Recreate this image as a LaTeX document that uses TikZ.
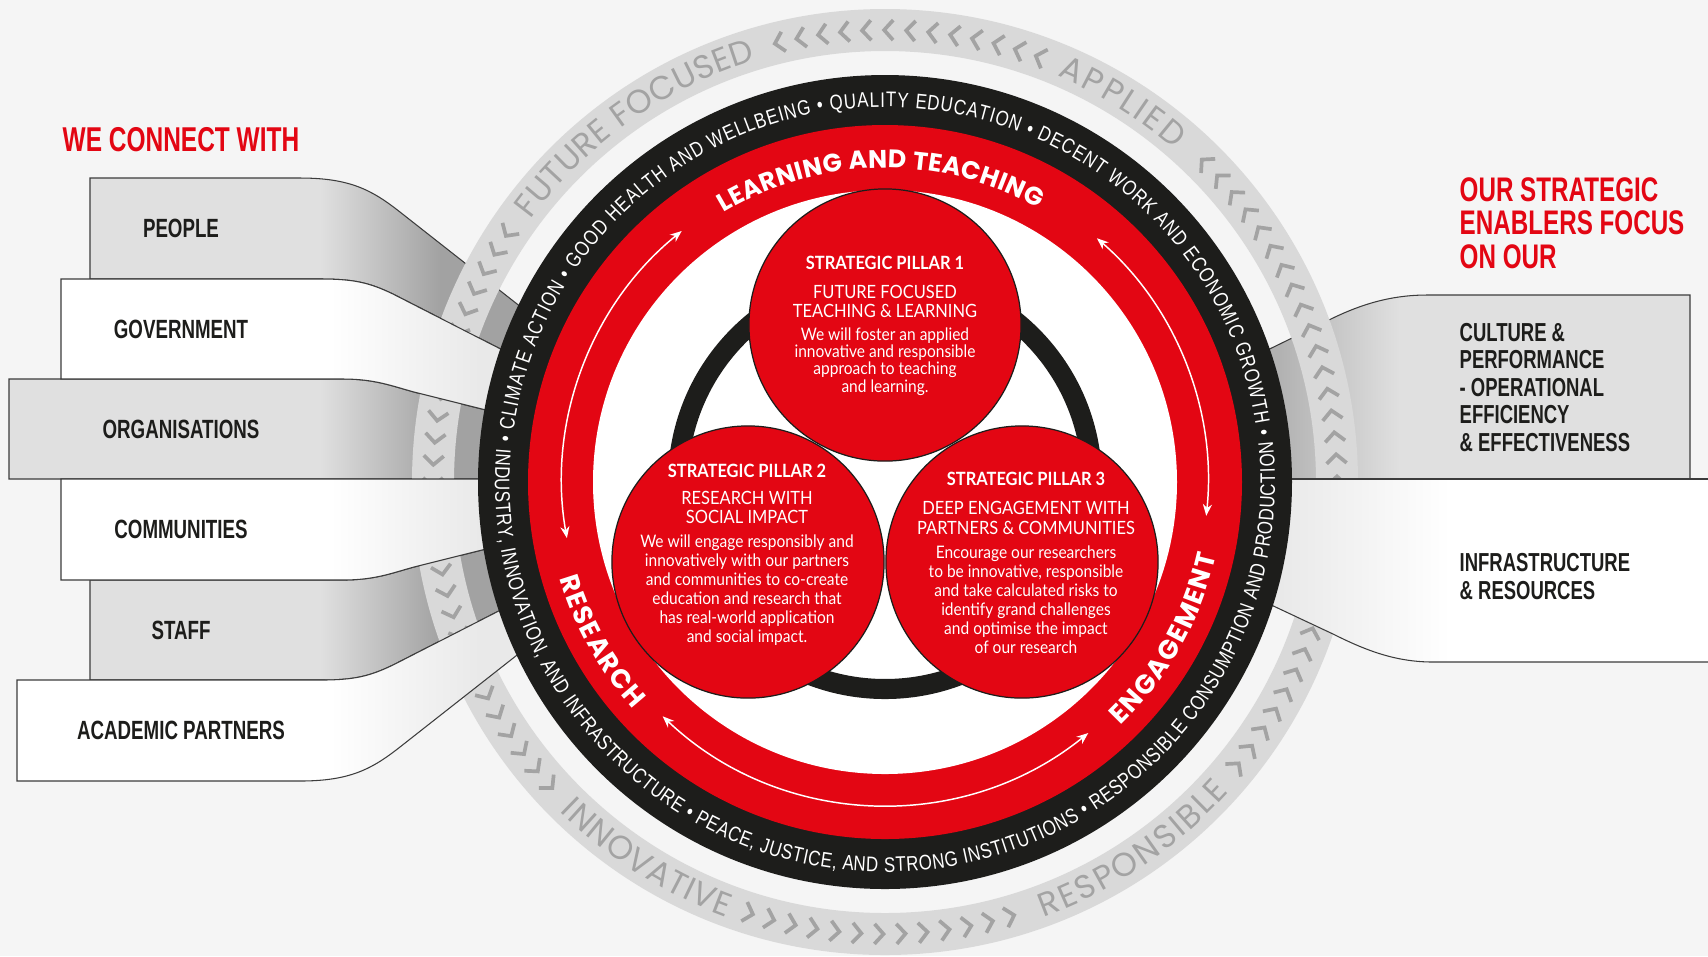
\documentclass[tikz,border=0pt]{standalone}
\usepackage{fontspec}
\setmainfont{Liberation Sans}
\newfontfamily\condf[FakeStretch=0.71]{Liberation Sans}
\newfontfamily\ringf[FakeStretch=0.8]{Liberation Sans}
\newfontfamily\latof[FakeStretch=0.9]{Lato}
\newfontfamily\poppf{Poppins}
\usetikzlibrary{arrows.meta,decorations.text}
\definecolor{bg}{HTML}{F5F5F5}
\definecolor{ured}{HTML}{E30613}
\definecolor{ublack}{HTML}{1D1D1B}
\definecolor{ringgray}{HTML}{D9D9D9}
\definecolor{chevgray}{HTML}{A3A3A3}
\definecolor{bandgray}{HTML}{E0E0E0}
\definecolor{banddark}{HTML}{A2A2A2}
\definecolor{bandmid}{HTML}{B2B2B2}
\definecolor{bandlight}{HTML}{E9E9E9}
\definecolor{linegray}{HTML}{3C3C3C}
\newcommand\fmtRing{\color{chevgray}\poppf\fontsize{9.4}{10}\selectfont}
\newcommand\fmtBlack{\color{white}\ringf\fontsize{6}{7}\selectfont}
\newcommand\fmtRedA{\color{white}\poppf\bfseries\fontsize{7.2}{8}\selectfont}
\newcommand\fmtRedB{\color{white}\poppf\bfseries\fontsize{7.6}{8}\selectfont}
\def\pPeople{(90,-178) -- (300,-178) .. controls (350,-178) and (372,-190) .. (400,-212) -- (540,-322) -- (530,-364) -- (393,-294) .. controls (370,-283) and (355,-279) .. (321,-279) -- (90,-279) -- cycle}
\def\pGov{(61,-279) -- (321,-279) .. controls (355,-279) and (370,-283) .. (393,-294) -- (530,-364) -- (510,-416) -- (414,-392) .. controls (392,-386) and (375,-379) .. (343,-379) -- (61,-379) -- cycle}
\def\pOrg{(9,-379) -- (343,-379) .. controls (375,-379) and (392,-386) .. (414,-392) -- (510,-416) -- (510,-479) -- (9,-479) -- cycle}
\def\pComm{(61,-479) -- (510,-479) -- (510,-543) -- (414,-567) .. controls (392,-573) and (375,-580) .. (343,-580) -- (61,-580) -- cycle}
\def\pStaff{(90,-580) -- (343,-580) .. controls (375,-580) and (392,-573) .. (414,-567) -- (510,-543) -- (530,-595) -- (393,-665) .. controls (370,-676) and (355,-680) .. (321,-680) -- (90,-680) -- cycle}
\def\pAcad{(17,-680) -- (321,-680) .. controls (355,-680) and (370,-676) .. (393,-665) -- (530,-595) -- (540,-637) -- (400,-747) .. controls (372,-769) and (350,-781) .. (300,-781) -- (17,-781) -- cycle}
\def\pCult{(1690,-295) -- (1427,-295) .. controls (1390,-295) and (1360,-305) .. (1333,-318) -- (1245,-361) -- (1265,-479) -- (1690,-479) -- cycle}
\def\pInfra{(1265,-479) -- (1708,-479) -- (1708,-662) -- (1433,-662) .. controls (1395,-662) and (1365,-650) .. (1333,-634) -- (1250,-595) -- cycle}
\newcommand\grayband[1]{%
  \fill[bandgray] #1;
  \begin{scope}\clip #1;
    \shade[left color=bandgray, right color=banddark] (320,-100) rectangle (440,-860);
    \fill[banddark] (440,-100) rectangle (600,-860);
  \end{scope}
  \draw[bandline] #1;}
\newcommand\whiteband[1]{%
  \fill[white] #1;
  \begin{scope}\clip #1;
    \shade[left color=white, right color=bandlight] (330,-100) rectangle (480,-860);
    \fill[bandlight] (480,-100) rectangle (600,-860);
  \end{scope}
  \draw[bandline] #1;}
\begin{document}
\begin{tikzpicture}[x=0.01cm, y=0.01cm,
  bandline/.style={draw=linegray, line width=0.3pt},
  chev/.style={draw=chevgray, line width=1.05pt, line cap=butt, line join=miter},
  pillar/.style={circle, fill=ured, draw=ublack, line width=0.35pt, minimum size=2.72cm, inner sep=0pt},
  ringarrow/.style={draw=white, line width=0.42pt, arrows={Stealth[length=3.3pt,width=2.6pt]-Stealth[length=3.3pt,width=2.6pt]}},
  lab/.style={text=ublack, font=\condf\bfseries\fontsize{7.5}{8}\selectfont, inner sep=0pt},
  rlab/.style={anchor=base west, text=ublack, font=\condf\bfseries\fontsize{7.4}{8}\selectfont, inner sep=0pt},
  rtitle/.style={anchor=base west, text=ured, font=\condf\bfseries\fontsize{9.7}{10}\selectfont, inner sep=0pt},
  phead/.style={anchor=base, text=white, font=\latof\bfseries\fontsize{5.2}{6}\selectfont, inner sep=0pt},
  psub/.style={anchor=base, text=white, font=\latof\fontsize{5.2}{6}\selectfont, inner sep=0pt},
  pbody/.style={anchor=base, text=white, font=\latof\fontsize{4.9}{6}\selectfont, inner sep=0pt},
  ringtext/.style={decorate, decoration={text along path, text align=fit to path, text={#1}}}
]
\useasboundingbox (0,0) rectangle (1708,-956);
\fill[bg] (0,0) rectangle (1708,-956);
\coordinate (C) at (885,-482);

% ---- gray bands (under the ring)
\grayband{\pPeople}
\grayband{\pOrg}
\grayband{\pStaff}
\fill[bandgray] \pCult;
\begin{scope}\clip \pCult;
  \shade[left color=bandmid, right color=bandgray] (1280,-250) rectangle (1400,-500);
  \fill[bandmid] (1200,-250) rectangle (1280,-500);
\end{scope}
\draw[bandline] (1245,-361) -- (1333,-318) .. controls (1360,-305) and (1390,-295) .. (1427,-295) -- (1690,-295) -- (1690,-479);

% ---- outer gray ring with chevrons and words
\begin{scope}[shift={(C)}]
  \fill[ringgray, even odd rule] (0,0) circle[radius=473] (0,0) circle[radius=431];
  \foreach \i in {0,...,12} {\pgfmathsetmacro\a{70+2.8*\i}
    \draw[chev, shift={(\a:452)}, rotate=\a+90] (-5,10) -- (4,0) -- (-5,-10);}
  \foreach \i in {0,...,30} {\pgfmathsetmacro\a{45-2.8*\i}
    \draw[chev, shift={(\a:452)}, rotate=\a+90] (-5,10) -- (4,0) -- (-5,-10);}
  \foreach \i in {0,...,12} {\pgfmathsetmacro\a{252.5+2.8*\i}
    \draw[chev, shift={(\a:452)}, rotate=\a+90] (-5,10) -- (4,0) -- (-5,-10);}
  \foreach \i in {0,...,27} {\pgfmathsetmacro\a{146.5+2.8*\i}
    \draw[chev, shift={(\a:452)}, rotate=\a+90] (-5,10) -- (4,0) -- (-5,-10);}
  \path[ringtext={|\fmtRing|FUTURE FOCUSED}] (143.4:441) arc[start angle=143.4, end angle=107, radius=441];
  \path[ringtext={|\fmtRing|APPLIED}] (67:441) arc[start angle=67, end angle=49, radius=441];
  \path[ringtext={|\fmtRing|INNOVATIVE}] (225.4:463) arc[start angle=225.4, end angle=250, radius=463];
  \path[ringtext={|\fmtRing|RESPONSIBLE}] (290:463) arc[start angle=290, end angle=318, radius=463];
\end{scope}

% ---- white bands (over the ring)
\whiteband{\pGov}
\whiteband{\pComm}
\whiteband{\pAcad}
\fill[white] \pInfra;
\begin{scope}\clip \pInfra;
  \shade[left color=bandlight, right color=white] (1280,-450) rectangle (1450,-700);
  \fill[bandlight] (1200,-450) rectangle (1280,-700);
\end{scope}
\draw[bandline] (1265,-479) -- (1708,-479);
\draw[bandline] (1708,-662) -- (1433,-662) .. controls (1395,-662) and (1365,-650) .. (1333,-634) -- (1250,-595);

% ---- central wheel
\begin{scope}[shift={(C)}]
  \fill[ublack] (0,0) circle[radius=407];
  \fill[ured] (0,0) circle[radius=357];
  \fill[white] (0,0) circle[radius=292];
  \draw[ublack, line width=5.7pt] (0,0) circle[radius=207];
  \node[pillar] (pill1) at (0,157) {};
  \node[pillar] (pill2) at (-137,-80) {};
  \node[pillar] (pill3) at (137,-80) {};
  % black ring words
  \path[ringtext={|\fmtBlack|• CLIMATE ACTION • GOOD HEALTH AND WELLBEING • QUALITY EDUCATION • DECENT WORK AND ECONOMIC GROWTH •}] (174:375) arc[start angle=174, end angle=7, radius=375];
  \path[ringtext={|\fmtBlack|INDUSTRY, INNOVATION, AND INFRASTRUCTURE • PEACE, JUSTICE, AND STRONG INSTITUTIONS • RESPONSIBLE CONSUMPTION AND PRODUCTION}] (175:390) arc[start angle=175, end angle=366, radius=390];
  % red ring words
  \path[ringtext={|\fmtRedA|LEARNING AND TEACHING}] (121:314) arc[start angle=121, end angle=60.7, radius=314];
  \path[ringtext={|\fmtRedB|RESEARCH}] (196.5:339) arc[start angle=196.5, end angle=222, radius=339];
  \path[ringtext={|\fmtRedB|ENGAGEMENT}] (-46:339) arc[start angle=-46, end angle=-12.5, radius=339];
  % red ring arrows
  \draw[ringarrow] (129:323) arc[start angle=129, end angle=190, radius=323];
  \draw[ringarrow] (49:323) arc[start angle=49, end angle=-6, radius=323];
  \draw[ringarrow] (226.5:323) arc[start angle=226.5, end angle=309, radius=323];
\end{scope}

% ---- pillar texts
\node[phead] (p1h) at (885,-269) {STRATEGIC PILLAR 1};
\node[psub] (p1s1) at (885,-298) {FUTURE FOCUSED};
\node[psub] (p1s2) at (885,-317) {TEACHING \& LEARNING};
\foreach \t [count=\i from 0] in {We will foster an applied, innovative and responsible, approach to teaching, and learning.}
  \node[pbody] (pa\i) at (885,{-340-17.4*\i}) {\t};

\node[phead] (p2h) at (747,-477) {STRATEGIC PILLAR 2};
\node[psub] (p2s1) at (747,-504) {RESEARCH WITH};
\node[psub] (p2s2) at (747,-523) {SOCIAL IMPACT};
\foreach \t [count=\i from 0] in {We will engage responsibly and, innovatively with our partners, and communities to co-create, education and research that, has real-world application, and social impact.}
  \node[pbody] (pb\i) at (747,{-547-19.1*\i}) {\t};

\node[phead] (p3h) at (1026,-485) {STRATEGIC PILLAR 3};
\node[psub] (p3s1) at (1026,-514) {DEEP ENGAGEMENT WITH};
\node[psub] (p3s2) at (1026,-534) {PARTNERS \& COMMUNITIES};
\foreach \t [count=\i from 0] in {Encourage our researchers, {to be innovative, responsible}, and take calculated risks to, identify grand challenges, and optimise the impact, of our research}
  \node[pbody] (pc\i) at (1026,{-558-19.1*\i}) {\t};

% ---- left labels
\node[anchor=base west, text=ured, font=\condf\bfseries\fontsize{9.8}{10}\selectfont, inner sep=0pt] (wcw) at (62,-151) {WE CONNECT WITH};
\node[lab] (lpeople) at (181,-228.5) {PEOPLE};
\node[lab] (lgov) at (181,-329) {GOVERNMENT};
\node[lab] (lorg) at (181,-429) {ORGANISATIONS};
\node[lab] (lcomm) at (181,-529.5) {COMMUNITIES};
\node[lab] (lstaff) at (181,-630) {STAFF};
\node[lab] (lacad) at (181,-730.5) {ACADEMIC PARTNERS};

% ---- right labels
\node[rtitle] (rt1) at (1459,-201) {OUR STRATEGIC};
\node[rtitle] (rt2) at (1459,-234) {ENABLERS FOCUS};
\node[rtitle] (rt3) at (1459,-268.6) {ON OUR};
\node[rlab] (cu1) at (1459,-341) {CULTURE \&};
\node[rlab] (cu2) at (1459,-368) {PERFORMANCE};
\node[rlab] (cu3) at (1459,-396) {- OPERATIONAL};
\node[rlab] (cu4) at (1459,-423) {EFFICIENCY};
\node[rlab] (cu5) at (1459,-451) {\& EFFECTIVENESS};
\node[rlab] (in1) at (1459,-571) {INFRASTRUCTURE};
\node[rlab] (in2) at (1459,-599) {\& RESOURCES};
\end{tikzpicture}
\end{document}
